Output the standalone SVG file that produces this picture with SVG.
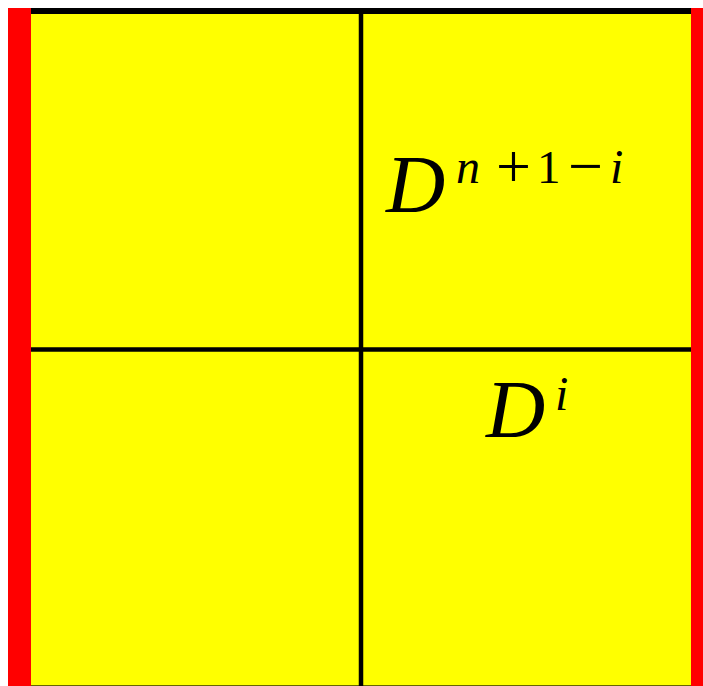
<svg xmlns="http://www.w3.org/2000/svg" width="703" height="686" viewBox="0 0 703 686">
<style>
.it{font-family:"Liberation Serif","Times New Roman",serif;font-style:italic;fill:#000}
.rm{font-family:"Liberation Serif","Times New Roman",serif;fill:#000}
.ln{stroke:#000;fill:none}
</style>
<rect x="0" y="0" width="703" height="686" fill="#fff"/>
<g id="board">
<rect x="31" y="14" width="660" height="672" fill="#ffff00"/>
<line class="ln" x1="31" y1="685.5" x2="691" y2="685.5" stroke-width="1" stroke-opacity="0.6"/>
</g>
<g id="walls">
<rect x="8" y="8" width="23" height="678" fill="#ff0000"/>
<rect x="691" y="8" width="12" height="678" fill="#ff0000"/>
<rect x="31" y="8" width="660" height="6" fill="#000"/>
</g>
<g id="connectors">
<line class="ln" x1="361" y1="14" x2="361" y2="686" stroke-width="4.5"/>
<line class="ln" x1="31" y1="349.5" x2="691" y2="349.5" stroke-width="4.5"/>
</g>
<g id="label-top">
<text class="it" x="386" y="212" font-size="82">D</text>
<text class="it" x="456" y="183" font-size="48">n</text>
<text class="rm" x="496" y="187" font-size="62">+</text>
<text class="rm" x="537" y="183" font-size="47">1</text>
<text class="rm" x="568" y="187" font-size="62">−</text>
<text class="it" x="610" y="183" font-size="48">i</text>
</g>
<g id="label-bottom">
<text class="it" x="486" y="437" font-size="82">D</text>
<text class="it" x="555" y="410" font-size="48">i</text>
</g>
</svg>
